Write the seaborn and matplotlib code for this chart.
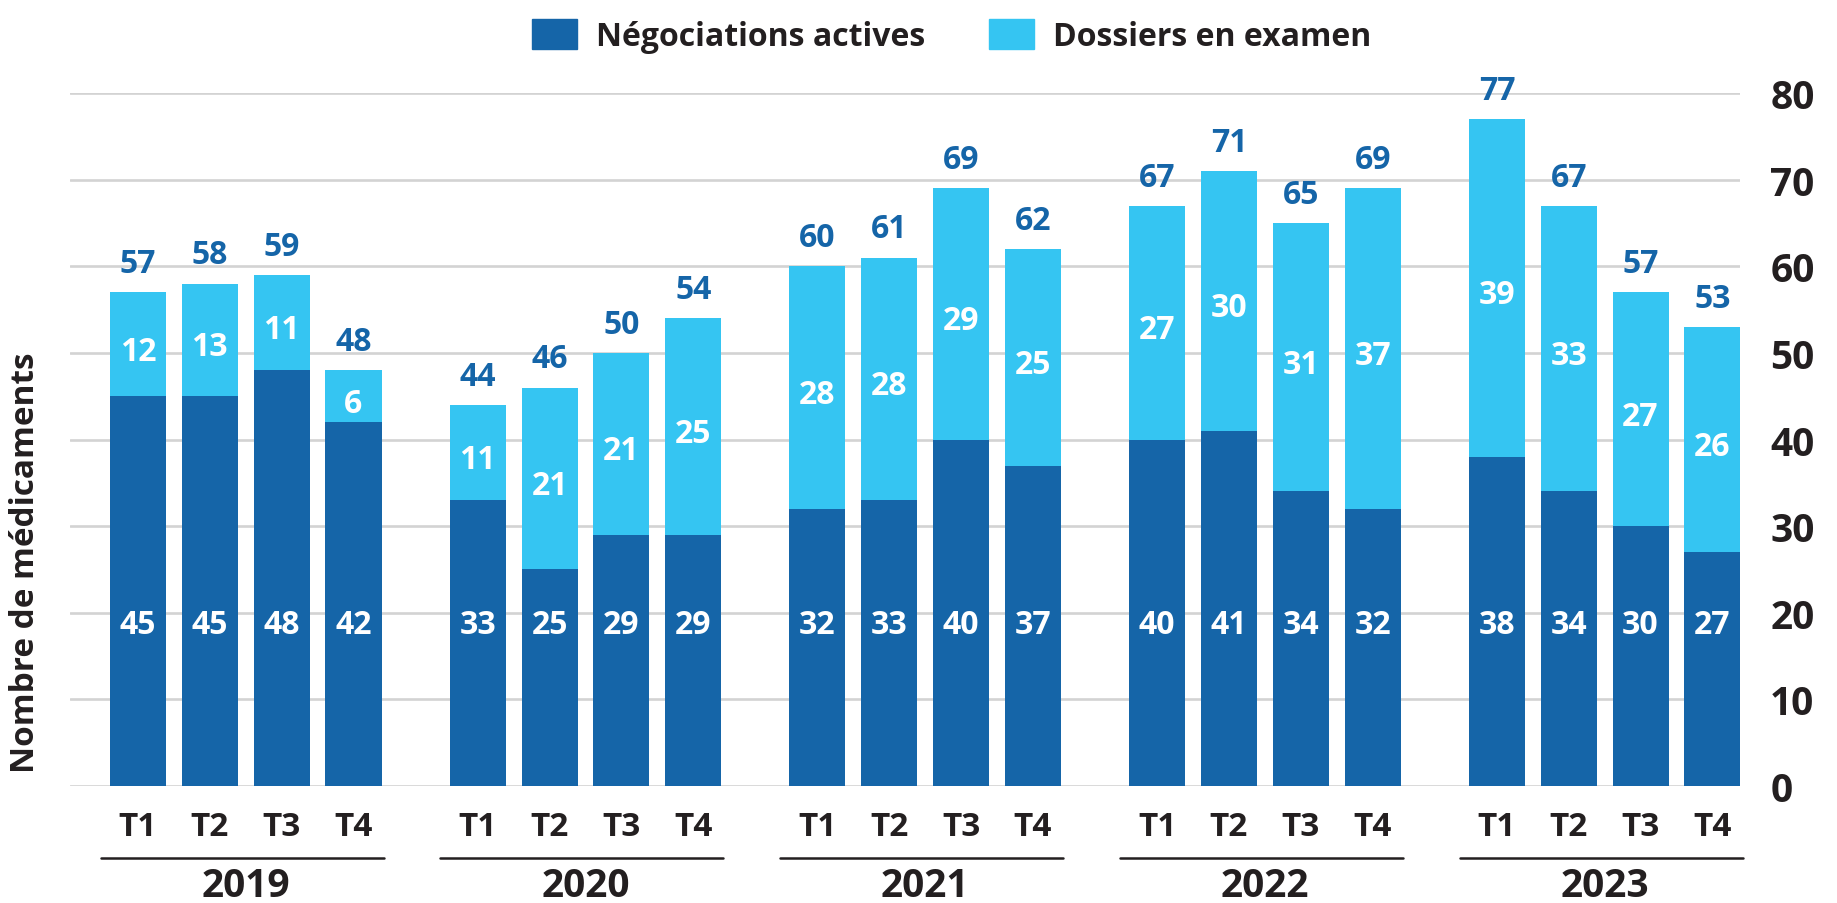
import numpy as np
import pandas as pd
import matplotlib
matplotlib.use("Agg")
import matplotlib.pyplot as plt
from matplotlib.patches import Patch
import seaborn as sns

years = ['2019', '2020', '2021', '2022', '2023']
quarters = ['T1', 'T2', 'T3', 'T4']
actives = [45, 45, 48, 42, 33, 25, 29, 29, 32, 33, 40, 37, 40, 41, 34, 32, 38, 34, 30, 27]
examen = [12, 13, 11, 6, 11, 21, 21, 25, 28, 28, 29, 25, 27, 30, 31, 37, 39, 33, 27, 26]

dark = '#1565a8'
light = '#35c5f2'
ink = '#231f20'

sns.set_theme(style='white')
plt.rcParams['font.family'] = ['Open Sans', 'DejaVu Sans']
plt.rcParams['font.weight'] = 'bold'

group_step = 4.73
pos = []
for g in range(len(years)):
    for q in range(len(quarters)):
        pos.append(round(g * group_step + q, 2))

df = pd.DataFrame({
    'pos': pos,
    'actives': actives,
    'examen': examen,
})
df['total'] = df['actives'] + df['examen']

fig = plt.figure(figsize=(18.37, 9.04), dpi=100)
ax = fig.add_axes([0.038, 0.1294, 0.909, 0.7666])

for y in range(0, 90, 10):
    ax.axhline(y, color='#d3d3d3', lw=1.9, zorder=0)

sns.barplot(df, x='pos', y='total', native_scale=True, color=light, saturation=1,
            width=0.78, linewidth=0, ax=ax, zorder=2)
sns.barplot(df, x='pos', y='actives', native_scale=True, color=dark, saturation=1,
            width=0.78, linewidth=0, ax=ax, zorder=3)

for p, a, e, t in zip(df['pos'], df['actives'], df['examen'], df['total']):
    ax.text(p, 18.6, str(int(a)), color='white', ha='center', va='center',
            fontsize=23, zorder=5)
    ax.text(p, a + e / 2 - 0.8, str(int(e)), color='white',
            ha='center', va='center', fontsize=23, zorder=5)
    ax.text(p, t + 1.4, str(int(t)), color=dark, ha='center',
            va='bottom', fontsize=23, zorder=5)

ax.set_ylim(0, 80)
ax.set_xlim(-0.95, 22.3)
ax.yaxis.tick_right()
ax.set_yticks(range(0, 90, 10))
ax.tick_params(axis='y', length=0, pad=22, labelsize=28, labelcolor=ink)
ax.set_xticks(pos, quarters * len(years))
ax.tick_params(axis='x', length=0, pad=17, labelsize=24, labelcolor=ink)
ax.set_xlabel('')
ax.set_ylabel('')
for s in ax.spines.values():
    s.set_visible(False)

# year brackets under the quarter labels
tr = ax.get_xaxis_transform()
for g, yr in enumerate(years):
    x0 = g * group_step
    ax.plot([x0 - 0.52, x0 + 3.42], [-0.104, -0.104], color=ink, lw=1.8,
            transform=tr, clip_on=False)
    ax.text(x0 + 1.5, -0.143, yr, transform=tr, ha='center', va='center',
            fontsize=28, color=ink)

fig.text(0.014, 0.378, 'Nombre de médicaments', rotation=90, ha='center', va='center',
         fontsize=24, color=ink)

handles = [Patch(color=dark, label='Négociations actives'),
           Patch(color=light, label='Dossiers en examen')]
fig.legend(handles=handles, loc='upper center', bbox_to_anchor=(0.518, 1.01), ncol=2,
           frameon=False, fontsize=23, handlelength=1.4, handleheight=1.1,
           columnspacing=2.0, handletextpad=0.6, labelcolor=ink)

plt.savefig('out.png', dpi=100)
